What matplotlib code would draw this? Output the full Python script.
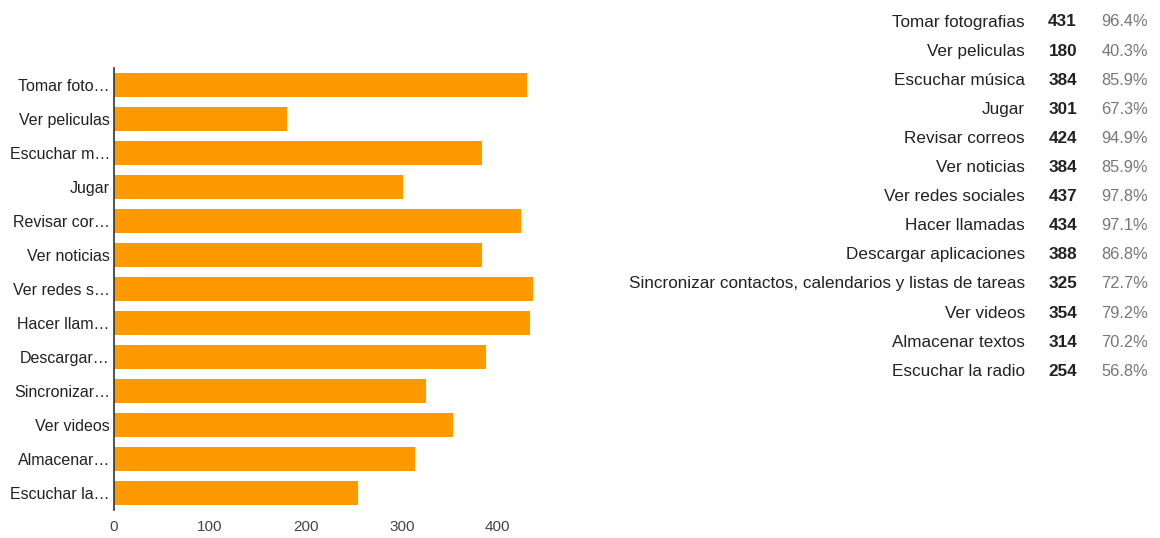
import matplotlib.pyplot as plt

plt.rcParams['font.family'] = ['Liberation Sans', 'DejaVu Sans']

actividades = ["Tomar fotografias", "Ver peliculas", "Escuchar música", "Jugar",
               "Revisar correos", "Ver noticias", "Ver redes sociales", "Hacer llamadas",
               "Descargar aplicaciones", "Sincronizar contactos, calendarios y listas de tareas",
               "Ver videos", "Almacenar textos", "Escuchar la radio"]
etiquetas = ["Tomar foto…", "Ver peliculas", "Escuchar m…", "Jugar", "Revisar cor…",
             "Ver noticias", "Ver redes s…", "Hacer llam…", "Descargar…", "Sincronizar…",
             "Ver videos", "Almacenar…", "Escuchar la…"]
respuestas = [431, 180, 384, 301, 424, 384, 437, 434, 388, 325, 354, 314, 254]
porcentajes = ["96.4%", "40.3%", "85.9%", "67.3%", "94.9%", "85.9%", "97.8%",
               "97.1%", "86.8%", "72.7%", "79.2%", "70.2%", "56.8%"]
ticks_x = [0, 100, 200, 300, 400]

fig = plt.figure(figsize=(11.6, 5.38), dpi=100)
ax = fig.add_axes([0.0983, 0.052, 0.372, 0.822])

pos = range(len(respuestas))
ax.barh(pos, respuestas, height=0.7, color="#ff9900")
ax.set_ylim(len(respuestas) - 0.5, -0.5)
ax.set_xlim(0, 450)
ax.set_yticks(list(pos))
ax.set_yticklabels(etiquetas, fontsize=11.5, color="#222222")
ax.set_xticks(ticks_x)
ax.set_xticklabels([str(t) for t in ticks_x], fontsize=11, color="#444444")
ax.tick_params(length=0, pad=3)
ax.tick_params(axis="x", pad=7)
for s in ["top", "right", "bottom"]:
    ax.spines[s].set_visible(False)
ax.spines["left"].set_color("#333333")
ax.spines["left"].set_linewidth(1.2)

# tabla de resumen a la derecha
for i, (a, n, p) in enumerate(zip(actividades, respuestas, porcentajes)):
    y = 1 - (22 + i * 29.1) / 538
    fig.text(1025 / 1160, y, a, ha="right", va="center", fontsize=12.3, color="#222222")
    fig.text(1077 / 1160, y, str(n), ha="right", va="center", fontsize=12.3,
             fontweight="bold", color="#222222")
    fig.text(1148 / 1160, y, p, ha="right", va="center", fontsize=11.8, color="#777777")

fig.savefig("out.png", dpi=100)
